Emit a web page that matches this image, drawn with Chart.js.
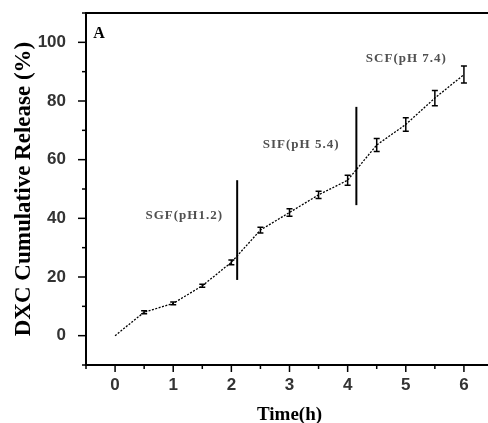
<!DOCTYPE html>
<html>
<head>
<meta charset="utf-8">
<script src="https://cdn.jsdelivr.net/npm/chart.js@4/dist/chart.umd.min.js"></script>
<style>
  html, body { margin: 0; padding: 0; background: #fff; overflow: hidden; }
  #wrap { width: 500px; height: 423px; }
</style>
</head>
<body>
<div id="wrap"><canvas id="grafico"></canvas></div>
<script>
// datos
const tiempos = [0, 0.5, 1, 1.5, 2, 2.5, 3, 3.5, 4, 4.5, 5, 5.5, 6];
const liberacion = [0, 8, 11, 17, 25, 36, 42, 48, 53, 65, 72, 81, 89];
const errores = [0, 0.5, 0.5, 0.5, 0.8, 1, 1.3, 1.2, 1.7, 2.2, 2.3, 2.6, 2.9];

const faseX = [2.1, 4.15];
const faseMin = [19, 44.5];
const faseMax = [53, 78];
const faseTextos = ['SGF(pH1.2)', 'SIF(pH 5.4)', 'SCF(pH 7.4)'];
const faseTextoX = [1.19, 3.2, 5.01];
const faseTextoY = [41, 65, 94.5];

const xTicks = [0, 1, 2, 3, 4, 5, 6];
const yTicks = [0, 20, 40, 60, 80, 100];

const serif = '"Liberation Serif", "DejaVu Serif", serif';
const sans = '"Liberation Sans", Arial, sans-serif';

// barras de error, marcas de los ejes y textos
const extras = {
  id: 'extras',
  afterDatasetsDraw(chart) {
    const { ctx, chartArea: a, scales: { x, y } } = chart;
    ctx.save();
    // barras de error
    ctx.strokeStyle = '#000';
    ctx.lineWidth = 1.5;
    tiempos.forEach((t, i) => {
      if (!errores[i]) return;
      const px = x.getPixelForValue(t);
      const top = y.getPixelForValue(liberacion[i] + errores[i]);
      const bot = y.getPixelForValue(liberacion[i] - errores[i]);
      ctx.beginPath();
      ctx.moveTo(px, top); ctx.lineTo(px, bot);
      ctx.moveTo(px - 3, top); ctx.lineTo(px + 3, top);
      ctx.moveTo(px - 3, bot); ctx.lineTo(px + 3, bot);
      ctx.stroke();
    });
    // marco
    ctx.lineWidth = 2;
    ctx.beginPath();
    ctx.moveTo(a.right + 5, a.top); ctx.lineTo(a.left, a.top);
    ctx.lineTo(a.left, a.bottom); ctx.lineTo(a.right + 5, a.bottom);
    ctx.stroke();
    // marcas en y (mayores y menores)
    ctx.lineWidth = 1.5;
    for (let v = -10; v <= 110; v += 10) {
      const py = y.getPixelForValue(v);
      const len = v % 20 === 0 ? 8 : 4;
      ctx.beginPath(); ctx.moveTo(a.left, py); ctx.lineTo(a.left - len, py); ctx.stroke();
    }
    // marcas en x
    for (let v = -0.5; v <= 6.5; v += 0.5) {
      const px = x.getPixelForValue(v);
      const len = Number.isInteger(v) ? 7 : 4;
      ctx.beginPath(); ctx.moveTo(px, a.bottom); ctx.lineTo(px, a.bottom + len); ctx.stroke();
    }
    // textos de fases
    ctx.fillStyle = '#505050';
    ctx.font = 'bold 13px ' + serif;
    ctx.letterSpacing = '1px';
    ctx.textAlign = 'center';
    ctx.textBaseline = 'middle';
    faseTextos.forEach((txt, i) => {
      ctx.fillText(txt, x.getPixelForValue(faseTextoX[i]), y.getPixelForValue(faseTextoY[i]));
    });
    ctx.letterSpacing = '0px';
    // letra del panel
    ctx.fillStyle = '#000';
    ctx.font = 'bold 16px ' + serif;
    ctx.fillText('A', a.left + 13, a.top + 21);
    ctx.restore();
  }
};

const datasets = [{
  data: tiempos.map((t, i) => ({ x: t, y: liberacion[i] })),
  borderColor: '#000',
  borderWidth: 1.3,
  borderDash: [2, 1.5],
  pointRadius: 0,
  tension: 0
}];
faseX.forEach((fx, i) => {
  datasets.push({
    data: [{ x: fx, y: faseMin[i] }, { x: fx, y: faseMax[i] }],
    borderColor: '#000',
    borderWidth: 2,
    pointRadius: 0
  });
});

new Chart(document.getElementById('grafico'), {
  type: 'line',
  data: { datasets },
  options: {
    responsive: true,
    maintainAspectRatio: false,
    animation: false,
    layout: { padding: { left: 0, top: 13, right: 7, bottom: 0 } },
    plugins: { legend: { display: false }, tooltip: { enabled: false } },
    scales: {
      x: {
        type: 'linear',
        min: -0.5,
        max: 6.5,
        afterBuildTicks: (s) => { s.ticks = xTicks.map(v => ({ value: v })); },
        afterFit: (s) => { s.height = 58; s.paddingLeft = 0; s.paddingRight = 0; },
        grid: { display: false },
        border: { display: false },
        ticks: { color: '#333', font: { family: sans, size: 17, weight: 'bold' }, padding: 2, maxRotation: 0 },
        title: { display: true, text: 'Time(h)', color: '#000', font: { family: serif, size: 19, weight: 'bold' }, padding: { top: 4, bottom: -3 } }
      },
      y: {
        min: -10,
        max: 110,
        afterBuildTicks: (s) => { s.ticks = yTicks.map(v => ({ value: v })); },
        afterFit: (s) => { s.width = 86; s.paddingTop = 0; s.paddingBottom = 0; },
        grid: { display: false },
        border: { display: false },
        ticks: { color: '#333', font: { family: sans, size: 17, weight: 'bold' }, padding: 12 },
        title: { display: true, text: 'DXC Cumulative Release (%)', color: '#000', font: { family: serif, size: 23, weight: 'bold' }, padding: { top: 10, bottom: 0 } }
      }
    }
  },
  plugins: [extras]
});
</script>
</body>
</html>
